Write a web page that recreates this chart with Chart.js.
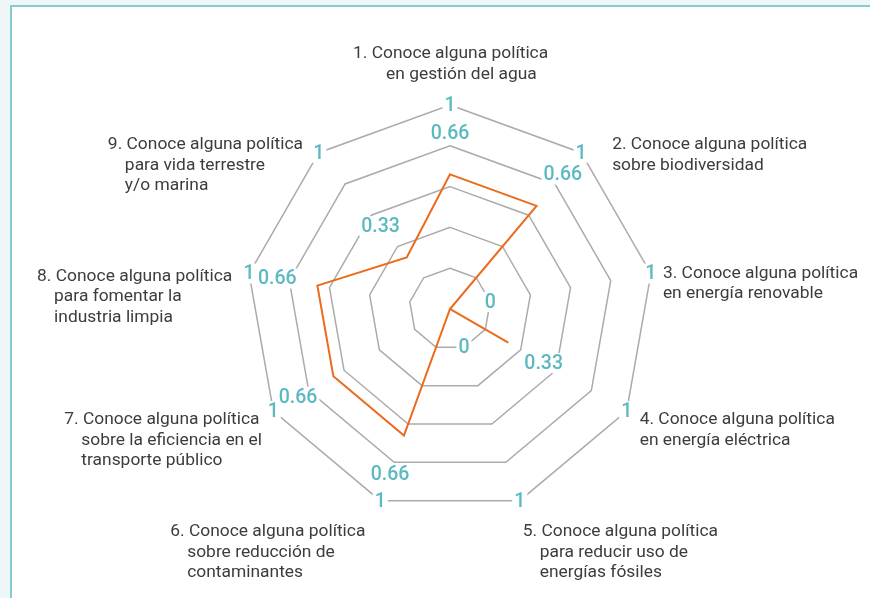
<!DOCTYPE html>
<html lang="es">
<head>
<meta charset="utf-8">
<title>Conocimiento de políticas ambientales</title>
<script src="https://cdn.jsdelivr.net/npm/chart.js@4.4.1/dist/chart.umd.min.js"></script>
<style>
  html, body { margin: 0; padding: 0; }
  body { width: 870px; height: 598px; background: #eef6f8; overflow: hidden; font-family: Roboto, sans-serif; }
  .frame { position: absolute; left: 10px; top: 5px; width: 900px; height: 640px; background: #fff; border-left: 2px solid #86cbd0; border-top: 2px solid #86cbd0; }
  .wrap { position: absolute; left: 0; top: 0; width: 870px; height: 598px; }
</style>
</head>
<body>
<div class="frame"></div>
<div class="wrap"><canvas id="radarChart"></canvas></div>
<script>
const categories = [
  ["1. Conoce alguna política", "en gestión del agua"],
  ["2. Conoce alguna política", "sobre biodiversidad"],
  ["3. Conoce alguna política", "en energía renovable"],
  ["4. Conoce alguna política", "en energía eléctrica"],
  ["5. Conoce alguna política", "para reducir uso de", "energías fósiles"],
  ["6. Conoce alguna política", "sobre reducción de", "contaminantes"],
  ["7. Conoce alguna política", "sobre la eficiencia en el", "transporte público"],
  ["8. Conoce alguna política", "para fomentar la", "industria limpia"],
  ["9. Conoce alguna política", "para vida terrestre", "y/o marina"]
];
const seriesValues = [0.66, 0.66, 0, 0.33, 0, 0.66, 0.66, 0.66, 0.33];
const maxValues = [1, 1, 1, 1, 1, 1, 1, 1, 1];
const scaleMin = 0;
const scaleMax = 1;
const scaleStep = 0.2;

// where each axis title sits, measured from the outer vertex of its axis
const labelOffsets = [[-97, -51], [31, -8], [12, 0], [13, 9], [3, 31], [-210, 31], [-209, 9], [-212, 3], [-211, -8]];
const labelIndent = [33, 0, 0, 0, 17, 17, 17, 17, 17];

const labelPlugin = {
  id: 'labelPlugin',
  afterDatasetsDraw(chart) {
    const ctx = chart.ctx;
    const r = chart.scales.r;
    ctx.save();

    // titulos de los ejes
    ctx.font = '17.4px Roboto';
    ctx.fillStyle = '#3c3c3c';
    ctx.textBaseline = 'middle';
    ctx.textAlign = 'left';
    categories.forEach((lines, i) => {
      const p = r.getPointPositionForValue(i, scaleMax);
      const x = p.x + labelOffsets[i][0];
      const y = p.y + labelOffsets[i][1];
      lines.forEach((line, j) => {
        ctx.fillText(line, x + (j > 0 ? labelIndent[i] : 0), y + j * 20.5);
      });
    });

    // valores
    ctx.font = '500 19.5px Roboto';
    ctx.textAlign = 'center';
    chart.data.datasets.forEach((ds) => {
      ds.data.forEach((v, i) => {
        const p = r.getPointPositionForValue(i, v + ds.labelShift);
        const text = String(v);
        const w = ctx.measureText(text).width;
        ctx.fillStyle = '#fff';
        ctx.fillRect(p.x - w / 2 - 2, p.y - 10, w + 4, 20);
        ctx.fillStyle = '#5cb9c2';
        ctx.fillText(text, p.x, p.y + 1);
      });
    });
    ctx.restore();
  }
};

const ctx = document.getElementById('radarChart').getContext('2d');
const chart = new Chart(ctx, {
  type: 'radar',
  data: {
    labels: categories,
    datasets: [
      {
        label: 'max',
        data: maxValues,
        borderWidth: 0,
        borderColor: 'rgba(0,0,0,0)',
        backgroundColor: 'rgba(0,0,0,0)',
        pointRadius: 0,
        labelShift: 0
      },
      {
        label: 'Conoce',
        data: seriesValues,
        borderColor: '#ec6a1c',
        borderWidth: 2,
        backgroundColor: 'rgba(0,0,0,0)',
        pointRadius: 0,
        tension: 0,
        labelShift: 0.2
      }
    ]
  },
  options: {
    responsive: true,
    maintainAspectRatio: false,
    animation: false,
    layout: { padding: { top: 105, bottom: 85, left: 246, right: 216 } },
    plugins: {
      legend: { display: false },
      tooltip: { enabled: false }
    },
    scales: {
      r: {
        min: scaleMin,
        max: scaleMax,
        ticks: { stepSize: scaleStep, display: false },
        grid: { color: '#ababab', lineWidth: 1.5 },
        angleLines: { display: false },
        pointLabels: { display: false }
      }
    }
  },
  plugins: [labelPlugin]
});
</script>
</body>
</html>
